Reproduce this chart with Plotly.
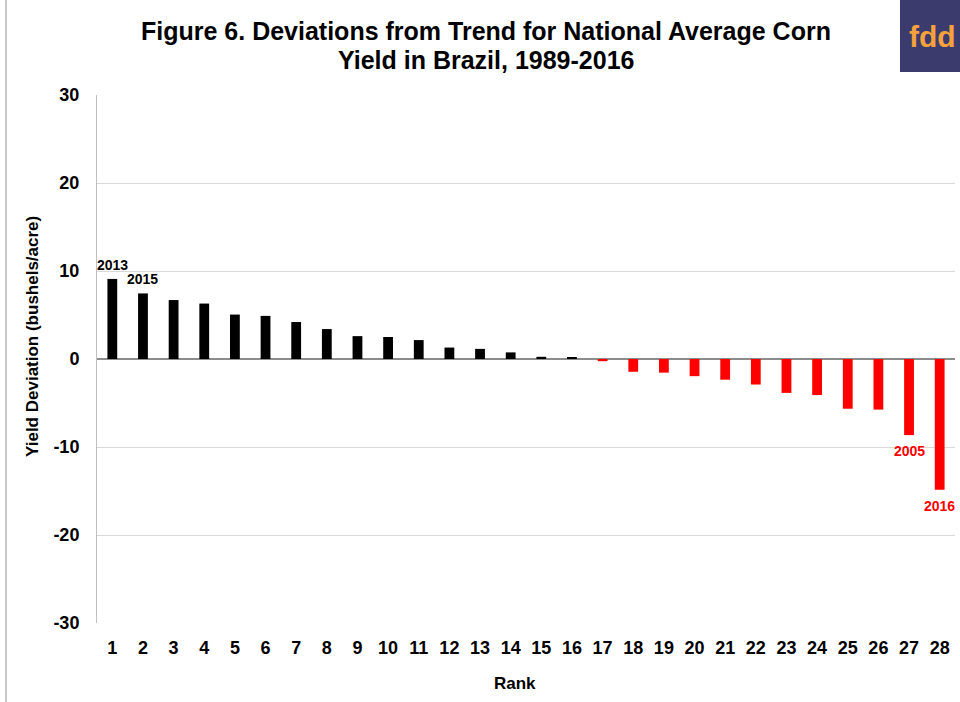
import plotly.graph_objects as go

ranks = list(range(1, 29))
deviations = [9.1, 7.45, 6.7, 6.3, 5.05, 4.9, 4.2, 3.4, 2.6, 2.5, 2.15, 1.3, 1.15, 0.75,
              0.25, 0.15, -0.25, -1.45, -1.55, -1.95, -2.35, -2.9, -3.85, -4.1, -5.65,
              -5.75, -8.65, -14.85]
tick_vals = [-30, -20, -10, 0, 10, 20, 30]

# year labels on the extreme bars: (text, rank, colour)
year_labels = [("2013", 1, "black"), ("2015", 2, "black"),
               ("2005", 27, "#ff0000"), ("2016", 28, "#ff0000")]
title_lines = ["Figure 6. Deviations from Trend for National Average Corn",
               "Yield in Brazil, 1989-2016"]

FONT = "Arial, Liberation Sans, sans-serif"
colors = ["black" if v >= 0 else "#ff0000" for v in deviations]

# plot area in pixels (used to place things outside the axes)
L, R, T, B = 97, 955, 95, 623
PW, PH = R - L, B - T


def px(x, y):
    # pixel position -> paper coords
    return (x - L) / PW, (B - y) / PH


def label(x, y, text, size, color="black", angle=0):
    xp, yp = px(x, y)
    fig.add_annotation(x=xp, y=yp, xref="paper", yref="paper",
                       xanchor="center", yanchor="middle",
                       text=text, showarrow=False, textangle=angle,
                       font=dict(family=FONT, size=size, color=color))


fig = go.Figure()
fig.add_trace(go.Bar(
    x=ranks, y=deviations,
    marker=dict(color=colors, line=dict(width=0)),
    width=0.32,
    showlegend=False,
))

for txt, r, col in year_labels:
    v = deviations[r - 1]
    fig.add_annotation(
        x=r, y=v, xref="x", yref="y",
        text=f"<b>{txt}</b>", showarrow=False,
        yshift=14 if v > 0 else -16,
        font=dict(family=FONT, size=14, color=col),
    )

# title, two lines placed separately for tighter spacing
label(486, 31, f"<b>{title_lines[0]}</b>", 25)
label(486, 60, f"<b>{title_lines[1]}</b>", 25)

# axis titles
label(515, 683, "<b>Rank</b>", 17)
label(32, 337, "<b>Yield Deviation (bushels/acre)</b>", 17, angle=-90)

# fdd logo
x0, y0 = px(900, 72)
x1, y1 = px(962, -2)
fig.add_shape(type="rect", xref="paper", yref="paper", x0=x0, x1=x1, y0=y0, y1=y1,
              fillcolor="#3c3b6e", line=dict(width=0), layer="above")
label(932, 37, "<b>fdd</b>", 30, color="#f5a13c")

# thin frame line on the left edge
fx, fy0 = px(6, 702)
_, fy1 = px(6, 0)
fig.add_shape(type="line", xref="paper", yref="paper", x0=fx, x1=fx, y0=fy0, y1=fy1,
              line=dict(color="#c8c8c8", width=2))

fig.update_layout(
    width=960, height=702,
    margin=dict(l=L, r=960 - R, t=T, b=702 - B),
    plot_bgcolor="white", paper_bgcolor="white",
    font=dict(family=FONT, color="black"),
    xaxis=dict(
        tickmode="array", tickvals=ranks, ticktext=[f"<b>{r}</b>" for r in ranks],
        tickfont=dict(size=18), range=[0.5, 28.5],
        showgrid=False, zeroline=False, showline=False, ticks="",
        ticklabelstandoff=12,
    ),
    yaxis=dict(
        range=[-30, 30], tickvals=tick_vals, ticktext=[f"<b>{v}</b>" for v in tick_vals],
        tickfont=dict(size=18),
        showgrid=True, gridcolor="#d9d9d9", gridwidth=1,
        zeroline=True, zerolinecolor="#8c8c8c", zerolinewidth=1.5,
        showline=True, linecolor="#bfbfbf", linewidth=1,
        ticks="", ticklabelstandoff=13,
    ),
)

fig.write_html("out.html", config={"displayModeBar": False},
               post_script="document.body.style.margin='0';")
